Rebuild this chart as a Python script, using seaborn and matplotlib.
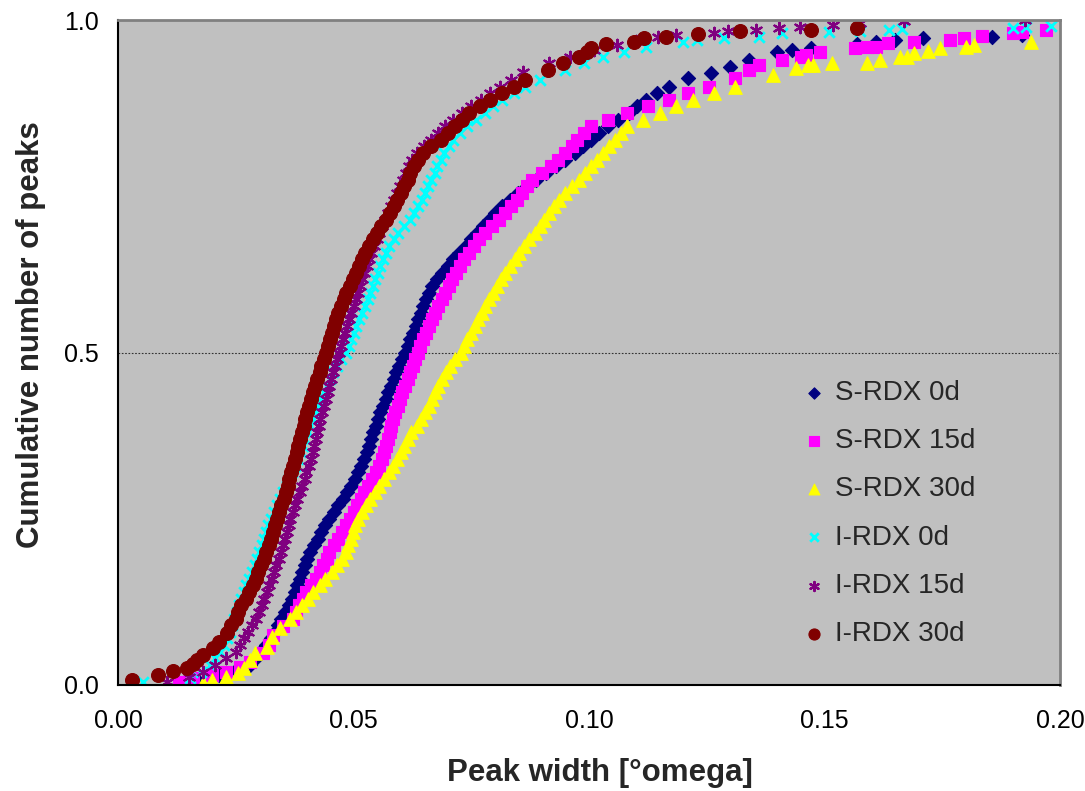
import numpy as np
import pandas as pd
import matplotlib
matplotlib.use("Agg")
import matplotlib.pyplot as plt
import seaborn as sns

# ---------------- data ----------------
series_names = ["S-RDX 0d", "S-RDX 15d", "S-RDX 30d", "I-RDX 0d", "I-RDX 15d", "I-RDX 30d"]

# shared cumulative levels for the dense middle part of every curve
body_levels = [0.10, 0.11, 0.12, 0.13, 0.14, 0.15, 0.16, 0.17, 0.18, 0.19,
               0.20, 0.21, 0.22, 0.23, 0.24, 0.25, 0.26, 0.27, 0.28, 0.29,
               0.30, 0.31, 0.32, 0.33, 0.34, 0.35, 0.36, 0.37, 0.38, 0.39,
               0.40, 0.41, 0.42, 0.43, 0.44, 0.45, 0.46, 0.47, 0.48, 0.49,
               0.50, 0.51, 0.52, 0.53, 0.54, 0.55, 0.56, 0.57, 0.58, 0.59,
               0.60, 0.61, 0.62, 0.63, 0.64, 0.65, 0.66, 0.67, 0.68, 0.69,
               0.70, 0.71, 0.72, 0.73, 0.74, 0.75, 0.76, 0.77, 0.78, 0.79,
               0.80, 0.81, 0.82, 0.83, 0.84, 0.85, 0.86, 0.87, 0.88, 0.89, 0.90]

# S-RDX 0d
s0_low_x = [0.0130, 0.0168, 0.0215, 0.0250, 0.0280, 0.0292, 0.0302, 0.0315, 0.0325, 0.0333, 0.0340]
s0_low_y = [0.002, 0.008, 0.015, 0.022, 0.030, 0.040, 0.050, 0.060, 0.070, 0.080, 0.090]
s0_body_x = [0.0347, 0.0355, 0.0362, 0.0369, 0.0375, 0.0381, 0.0386, 0.0391, 0.0396, 0.0402,
             0.0408, 0.0416, 0.0424, 0.0432, 0.0440, 0.0449, 0.0458, 0.0467, 0.0477, 0.0486,
             0.0495, 0.0503, 0.0510, 0.0516, 0.0522, 0.0528, 0.0533, 0.0538, 0.0542, 0.0547,
             0.0552, 0.0557, 0.0562, 0.0568, 0.0573, 0.0579, 0.0585, 0.0591, 0.0597, 0.0603,
             0.0609, 0.0615, 0.0620, 0.0626, 0.0632, 0.0638, 0.0643, 0.0648, 0.0654, 0.0660,
             0.0666, 0.0677, 0.0688, 0.0700, 0.0712, 0.0725, 0.0738, 0.0750, 0.0762, 0.0775,
             0.0788, 0.0801, 0.0815, 0.0832, 0.0850, 0.0869, 0.0888, 0.0909, 0.0930, 0.0950,
             0.0970, 0.0988, 0.1005, 0.1022, 0.1040, 0.1062, 0.1085, 0.1102, 0.1120, 0.1145, 0.1170]
s0_high_x = [0.1210, 0.1260, 0.1300, 0.1340, 0.1400, 0.1430, 0.1472, 0.1570, 0.1610, 0.1650, 0.1710, 0.1855, 0.1920]
s0_high_y = [0.913, 0.920, 0.930, 0.940, 0.952, 0.955, 0.958, 0.964, 0.967, 0.970, 0.973, 0.974, 0.977]

# S-RDX 15d
s15_low_x = [0.0130, 0.0160, 0.0200, 0.0230, 0.0260, 0.0280, 0.0307, 0.0320, 0.0330, 0.0350]
s15_low_y = [0.005, 0.010, 0.015, 0.020, 0.027, 0.035, 0.048, 0.060, 0.075, 0.088]
s15_body_x = [0.0372, 0.0378, 0.0385, 0.0392, 0.0400, 0.0410, 0.0420, 0.0428, 0.0436, 0.0443,
              0.0449, 0.0458, 0.0467, 0.0476, 0.0484, 0.0492, 0.0500, 0.0508, 0.0515, 0.0522,
              0.0530, 0.0539, 0.0547, 0.0554, 0.0560, 0.0565, 0.0570, 0.0574, 0.0577, 0.0580,
              0.0584, 0.0589, 0.0594, 0.0599, 0.0604, 0.0610, 0.0615, 0.0620, 0.0626, 0.0631,
              0.0636, 0.0642, 0.0648, 0.0654, 0.0660, 0.0666, 0.0673, 0.0680, 0.0687, 0.0694,
              0.0702, 0.0709, 0.0717, 0.0726, 0.0735, 0.0745, 0.0755, 0.0767, 0.0780, 0.0794,
              0.0808, 0.0822, 0.0835, 0.0847, 0.0858, 0.0868, 0.0880, 0.0900, 0.0920, 0.0935,
              0.0950, 0.0963, 0.0975, 0.0990, 0.1005, 0.1040, 0.1080, 0.1125, 0.1170, 0.1210, 0.1255]
s15_high_x = [0.1310, 0.1340, 0.1360, 0.1410, 0.1450, 0.1460, 0.1490, 0.1565, 0.1590, 0.1610,
              0.1635, 0.1690, 0.1766, 0.1797, 0.1834, 0.1900, 0.1920, 0.1970]
s15_high_y = [0.913, 0.925, 0.932, 0.940, 0.945, 0.947, 0.952, 0.958, 0.959, 0.960,
              0.965, 0.967, 0.970, 0.973, 0.976, 0.980, 0.982, 0.985]

# S-RDX 30d
s30_low_x = [0.0180, 0.0200, 0.0230, 0.0255, 0.0268, 0.0280, 0.0290, 0.0317, 0.0327, 0.0345]
s30_low_y = [0.003, 0.008, 0.012, 0.018, 0.025, 0.037, 0.048, 0.057, 0.072, 0.085]
s30_body_x = [0.0365, 0.0378, 0.0390, 0.0403, 0.0415, 0.0428, 0.0440, 0.0454, 0.0466, 0.0476,
              0.0484, 0.0489, 0.0494, 0.0499, 0.0504, 0.0510, 0.0518, 0.0526, 0.0535, 0.0545,
              0.0555, 0.0565, 0.0575, 0.0584, 0.0593, 0.0600, 0.0607, 0.0615, 0.0623, 0.0634,
              0.0644, 0.0652, 0.0660, 0.0667, 0.0673, 0.0680, 0.0688, 0.0696, 0.0705, 0.0716,
              0.0728, 0.0735, 0.0742, 0.0750, 0.0757, 0.0765, 0.0772, 0.0780, 0.0788, 0.0796,
              0.0804, 0.0813, 0.0822, 0.0832, 0.0842, 0.0852, 0.0862, 0.0873, 0.0885, 0.0895,
              0.0905, 0.0915, 0.0925, 0.0937, 0.0950, 0.0964, 0.0978, 0.0992, 0.1005, 0.1018,
              0.1030, 0.1042, 0.1055, 0.1068, 0.1080, 0.1115, 0.1150, 0.1185, 0.1220, 0.1265, 0.1310]
s30_high_x = [0.1390, 0.1440, 0.1466, 0.1476, 0.1515, 0.1590, 0.1617, 0.1660, 0.1675, 0.1690,
              0.1720, 0.1745, 0.1800, 0.1817, 0.1938]
s30_high_y = [0.917, 0.928, 0.932, 0.933, 0.935, 0.936, 0.940, 0.944, 0.945, 0.950,
              0.953, 0.958, 0.959, 0.962, 0.967]

# I-RDX 0d
i0_low_x = [0.0053, 0.0153, 0.0177, 0.0195, 0.0207, 0.0217, 0.0225, 0.0232, 0.0238, 0.0243]
i0_low_y = [0.005, 0.011, 0.020, 0.030, 0.040, 0.050, 0.060, 0.070, 0.080, 0.090]
i0_body_x = [0.0247, 0.0252, 0.0257, 0.0262, 0.0267, 0.0272, 0.0278, 0.0284, 0.0290, 0.0295,
             0.0300, 0.0305, 0.0310, 0.0314, 0.0318, 0.0325, 0.0332, 0.0338, 0.0345, 0.0351,
             0.0358, 0.0364, 0.0370, 0.0376, 0.0382, 0.0388, 0.0393, 0.0398, 0.0403, 0.0408,
             0.0414, 0.0420, 0.0425, 0.0431, 0.0437, 0.0443, 0.0450, 0.0457, 0.0464, 0.0474,
             0.0485, 0.0490, 0.0495, 0.0500, 0.0506, 0.0512, 0.0518, 0.0524, 0.0530, 0.0535,
             0.0541, 0.0546, 0.0552, 0.0557, 0.0563, 0.0569, 0.0575, 0.0585, 0.0595, 0.0607,
             0.0620, 0.0629, 0.0637, 0.0645, 0.0652, 0.0659, 0.0665, 0.0672, 0.0678, 0.0685,
             0.0692, 0.0702, 0.0712, 0.0726, 0.0740, 0.0760, 0.0780, 0.0797, 0.0815, 0.0840, 0.0865]
i0_high_x = [0.0895, 0.0950, 0.0990, 0.1030, 0.1075, 0.1120, 0.1200, 0.1230, 0.1287, 0.1360,
             0.1409, 0.1510, 0.1575, 0.1636, 0.1664, 0.1900, 0.1928, 0.1980]
i0_high_y = [0.910, 0.925, 0.935, 0.944, 0.952, 0.959, 0.967, 0.970, 0.973, 0.974,
             0.980, 0.982, 0.983, 0.985, 0.986, 0.988, 0.989, 0.991]

# I-RDX 15d
i15_low_x = [0.0104, 0.0150, 0.0180, 0.0205, 0.0230, 0.0250, 0.0258, 0.0268, 0.0277, 0.0285]
i15_low_y = [0.005, 0.012, 0.020, 0.030, 0.040, 0.050, 0.060, 0.070, 0.080, 0.090]
i15_body_x = [0.0293, 0.0299, 0.0305, 0.0311, 0.0316, 0.0321, 0.0326, 0.0331, 0.0336, 0.0341,
              0.0346, 0.0350, 0.0354, 0.0358, 0.0362, 0.0366, 0.0371, 0.0376, 0.0381, 0.0386,
              0.0391, 0.0396, 0.0400, 0.0405, 0.0409, 0.0413, 0.0417, 0.0420, 0.0423, 0.0426,
              0.0429, 0.0433, 0.0437, 0.0441, 0.0445, 0.0449, 0.0453, 0.0457, 0.0461, 0.0465,
              0.0469, 0.0473, 0.0477, 0.0481, 0.0486, 0.0490, 0.0495, 0.0500, 0.0505, 0.0509,
              0.0514, 0.0518, 0.0523, 0.0528, 0.0533, 0.0538, 0.0543, 0.0549, 0.0555, 0.0560,
              0.0566, 0.0573, 0.0580, 0.0587, 0.0593, 0.0599, 0.0605, 0.0611, 0.0617, 0.0625,
              0.0635, 0.0650, 0.0665, 0.0680, 0.0695, 0.0712, 0.0730, 0.0750, 0.0770, 0.0790, 0.0810]
i15_high_x = [0.0835, 0.0860, 0.0915, 0.0960, 0.1010, 0.1060, 0.1100, 0.1147, 0.1185, 0.1266,
              0.1296, 0.1355, 0.1404, 0.1447, 0.1519, 0.1575, 0.1668, 0.1925]
i15_high_y = [0.910, 0.922, 0.935, 0.945, 0.955, 0.962, 0.968, 0.974, 0.977, 0.980,
              0.983, 0.985, 0.988, 0.989, 0.992, 0.995, 0.998, 1.000]

# I-RDX 30d
i30_low_x = [0.0030, 0.0085, 0.0117, 0.0147, 0.0160, 0.0168, 0.0180, 0.0202, 0.0215, 0.0232, 0.0240]
i30_low_y = [0.008, 0.015, 0.021, 0.026, 0.032, 0.038, 0.045, 0.056, 0.065, 0.078, 0.090]
i30_body_x = [0.0250, 0.0255, 0.0262, 0.0271, 0.0279, 0.0286, 0.0292, 0.0298, 0.0304, 0.0310,
              0.0315, 0.0320, 0.0324, 0.0329, 0.0333, 0.0337, 0.0342, 0.0347, 0.0352, 0.0356,
              0.0360, 0.0364, 0.0368, 0.0372, 0.0376, 0.0380, 0.0383, 0.0386, 0.0390, 0.0394,
              0.0397, 0.0401, 0.0405, 0.0410, 0.0414, 0.0419, 0.0423, 0.0428, 0.0432, 0.0437,
              0.0442, 0.0446, 0.0450, 0.0455, 0.0459, 0.0463, 0.0468, 0.0473, 0.0479, 0.0485,
              0.0492, 0.0498, 0.0505, 0.0511, 0.0518, 0.0525, 0.0533, 0.0541, 0.0550, 0.0559,
              0.0568, 0.0577, 0.0585, 0.0593, 0.0600, 0.0608, 0.0615, 0.0621, 0.0628, 0.0637,
              0.0648, 0.0665, 0.0685, 0.0700, 0.0715, 0.0730, 0.0745, 0.0768, 0.0790, 0.0815, 0.0840]
i30_high_x = [0.0865, 0.0913, 0.0945, 0.0979, 0.0995, 0.1005, 0.1036, 0.1096, 0.1117, 0.1164,
              0.1232, 0.1320, 0.1472, 0.1570]
i30_high_y = [0.910, 0.925, 0.935, 0.944, 0.952, 0.958, 0.964, 0.967, 0.973, 0.975,
              0.979, 0.983, 0.985, 0.988]

x_ticks = [0.00, 0.05, 0.10, 0.15, 0.20]
x_tick_labels = ["0.00", "0.05", "0.10", "0.15", "0.20"]
y_ticks = [0.0, 0.5, 1.0]
y_tick_labels = ["0.0", "0.5", "1.0"]

# ---------------- build table ----------------
parts = {
    "S-RDX 0d": (s0_low_x, s0_low_y, s0_body_x, s0_high_x, s0_high_y),
    "S-RDX 15d": (s15_low_x, s15_low_y, s15_body_x, s15_high_x, s15_high_y),
    "S-RDX 30d": (s30_low_x, s30_low_y, s30_body_x, s30_high_x, s30_high_y),
    "I-RDX 0d": (i0_low_x, i0_low_y, i0_body_x, i0_high_x, i0_high_y),
    "I-RDX 15d": (i15_low_x, i15_low_y, i15_body_x, i15_high_x, i15_high_y),
    "I-RDX 30d": (i30_low_x, i30_low_y, i30_body_x, i30_high_x, i30_high_y),
}
frames = []
for name in series_names:
    lx, ly, bx, hx, hy = parts[name]
    frames.append(pd.DataFrame({"width": list(lx) + list(bx) + list(hx),
                                "cum": list(ly) + list(body_levels) + list(hy),
                                "series": name}))
df = pd.concat(frames, ignore_index=True)

# ---------------- style ----------------
sns.set_theme(style="white")
plt.rcParams["font.family"] = ["Liberation Sans", "DejaVu Sans"]

styles = {
    "S-RDX 0d": dict(marker="D", color="#000080", s=52, lw=0.8),
    "S-RDX 15d": dict(marker="s", color="#FF00FF", s=70, lw=0.8),
    "S-RDX 30d": dict(marker="^", color="#FFFF00", s=95, lw=0.8),
    "I-RDX 0d": dict(marker="x", color="#00FFFF", s=58, lw=2.0),
    "I-RDX 15d": dict(marker=(6, 2, 0), color="#800080", s=68, lw=1.6),
    "I-RDX 30d": dict(marker="o", color="#800000", s=100, lw=0.8),
}

fig = plt.figure(figsize=(10.85, 7.91), dpi=100)
ax = fig.add_axes([118 / 1085, 1 - 685 / 791, 942 / 1085, 665 / 791])
ax.set_facecolor("#C0C0C0")

for name in series_names:
    st = styles[name]
    sub = df[df["series"] == name]
    sns.scatterplot(data=sub, x="width", y="cum", ax=ax, marker=st["marker"],
                    color=st["color"], s=st["s"], edgecolor=st["color"],
                    linewidth=st["lw"], label=name, clip_on=True)

ax.set_xlim(0, 0.20)
ax.set_ylim(0, 1.0)
ax.set_xticks(x_ticks)
ax.set_xticklabels(x_tick_labels)
ax.set_yticks(y_ticks)
ax.set_yticklabels(y_tick_labels)
ax.tick_params(axis="both", direction="out", length=6, width=1.2, color="black",
               labelsize=18, labelcolor="black")
ax.tick_params(axis="x", pad=11)
ax.tick_params(axis="y", pad=8)
ax.yaxis.grid(True, linestyle=(0, (1.5, 1.5)), color="#303030", linewidth=0.8)
ax.xaxis.grid(False)
ax.set_axisbelow(True)

for side in ["left", "bottom"]:
    ax.spines[side].set_color("black")
    ax.spines[side].set_linewidth(1.5)
for side in ["top", "right"]:
    ax.spines[side].set_color("#808080")
    ax.spines[side].set_linewidth(2.0)

lab_font = dict(family=["Liberation Sans", "DejaVu Sans"], weight="bold", size=22.5)
ax.set_xlabel("Peak width [°omega]", fontdict=lab_font)
ax.set_ylabel("Cumulative number of peaks", fontdict=lab_font)
ax.xaxis.label.set_va("center")
ax.yaxis.label.set_va("center")
ax.xaxis.set_label_coords((600 - 118) / 942, (685 - 773) / 665)
ax.yaxis.set_label_coords((31 - 118) / 942, (685 - 335) / 665)

leg = ax.legend(loc="upper left", bbox_to_anchor=((800 - 118) / 942, (685 - 380) / 665),
                frameon=False, fontsize=20, markerscale=0.8, handletextpad=0.25,
                labelspacing=0.8, handlelength=1.0, borderpad=0, borderaxespad=0)

fig.savefig("out.png", dpi=100)
